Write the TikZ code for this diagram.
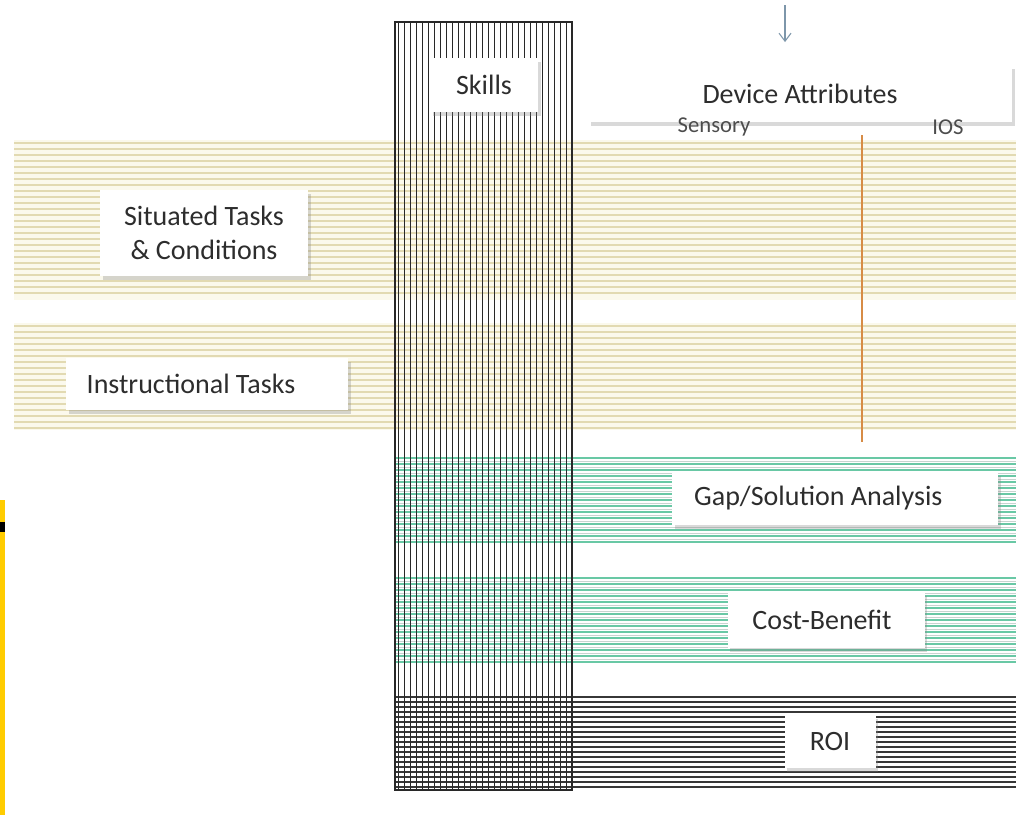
\documentclass[tikz,border=0pt]{standalone}
\usepackage{fontspec}
\setmainfont{Carlito}
\usetikzlibrary{shadows,arrows.meta}

\definecolor{tanline}{RGB}{226,218,178}
\definecolor{tanfill}{RGB}{251,249,236}
\definecolor{greenline}{RGB}{105,200,165}
\definecolor{greengray}{RGB}{200,212,208}
\definecolor{roiline}{RGB}{55,55,55}
\definecolor{skillline}{RGB}{40,40,40}
\definecolor{orangeline}{RGB}{215,140,70}
\definecolor{arrowgray}{RGB}{125,150,170}
\definecolor{barfill}{RGB}{255,204,0}
\definecolor{textgray}{RGB}{45,45,45}

\begin{document}
\begin{tikzpicture}[x=0.75pt,y=-0.75pt,
labelbox/.style={rectangle, fill=white, text=textgray, font=\fontsize{21}{25}\selectfont, align=center,
  drop shadow={shadow xshift=2pt, shadow yshift=-3pt, opacity=0.3}},
subtext/.style={text=textgray!85, font=\fontsize{17}{19}\selectfont, inner sep=0pt},
]
\useasboundingbox (0,0) rectangle (1016,815);

%Bands
\fill[tanfill] (14,140) rectangle (1016,300);
\foreach \y in {143,149,...,297} \draw[tanline, line width=0.9pt] (14,\y) -- (1016,\y);
\fill[tanfill] (14,323) rectangle (1016,430);
\foreach \y in {326,332,...,428} \draw[tanline, line width=0.9pt] (14,\y) -- (1016,\y);
\foreach \y in {458,464,...,546} \draw[greenline, line width=0.9pt] (395,\y) -- (1016,\y);
\foreach \y in {461,467,...,543} \draw[greengray, line width=0.6pt] (395,\y) -- (1016,\y);
\foreach \y in {578,584,...,666} \draw[greenline, line width=0.9pt] (395,\y) -- (1016,\y);
\foreach \y in {581,587,...,663} \draw[greengray, line width=0.6pt] (395,\y) -- (1016,\y);
\foreach \y in {697,702,...,790} \draw[roiline, line width=0.8pt] (395,\y) -- (1016,\y);

%Skills column
\foreach \x in {398,404,...,570} \draw[skillline, line width=0.7pt] (\x,22) -- (\x,790);
\draw[skillline, line width=0.8pt] (395,22) rectangle (572,790);

%Divider
\draw[orangeline, line width=1pt] (862,135) -- (862,442);

%Side bar
\fill[barfill] (0,500) rectangle (5,815);
\fill[black] (0,522) rectangle (5,532);

%Nodes
\node[labelbox, minimum width=81pt, minimum height=40.5pt]     (skills)    at (484,85)    {Skills};
\node[labelbox, minimum width=318pt, minimum height=42.75pt]   (device)    at (800,93.5)  {Device Attributes};
\node[subtext]  (sensory)  at (714,127)  {Sensory};
\node[subtext]  (ios)      at (948,127)  {IOS};
\node[labelbox, minimum width=156pt, minimum height=64.5pt]    (situated)  at (204,233)   {Situated Tasks\\\& Conditions};
\node[labelbox, minimum width=211.5pt, minimum height=39pt]    (instr)     at (207,384)   {Instructional Tasks\hspace*{24pt}};
\node[labelbox, minimum width=244.5pt, minimum height=39.75pt] (gap)       at (835,498.5) {Gap/Solution Analysis\hspace*{25pt}};
\node[labelbox, minimum width=147.75pt, minimum height=42pt]   (cost)      at (826,620)   {Cost-Benefit\hspace*{6pt}};
\node[labelbox, minimum width=68.25pt, minimum height=39.75pt] (roi)       at (830,741)   {ROI};

%Lines
\coordinate (feed) at (785,5);
\draw[-{Straight Barb[length=6pt,width=9pt]}, arrowgray, line width=0.8pt, shorten >=17pt] (feed) -- (device.north -| feed);

\end{tikzpicture}
\end{document}
